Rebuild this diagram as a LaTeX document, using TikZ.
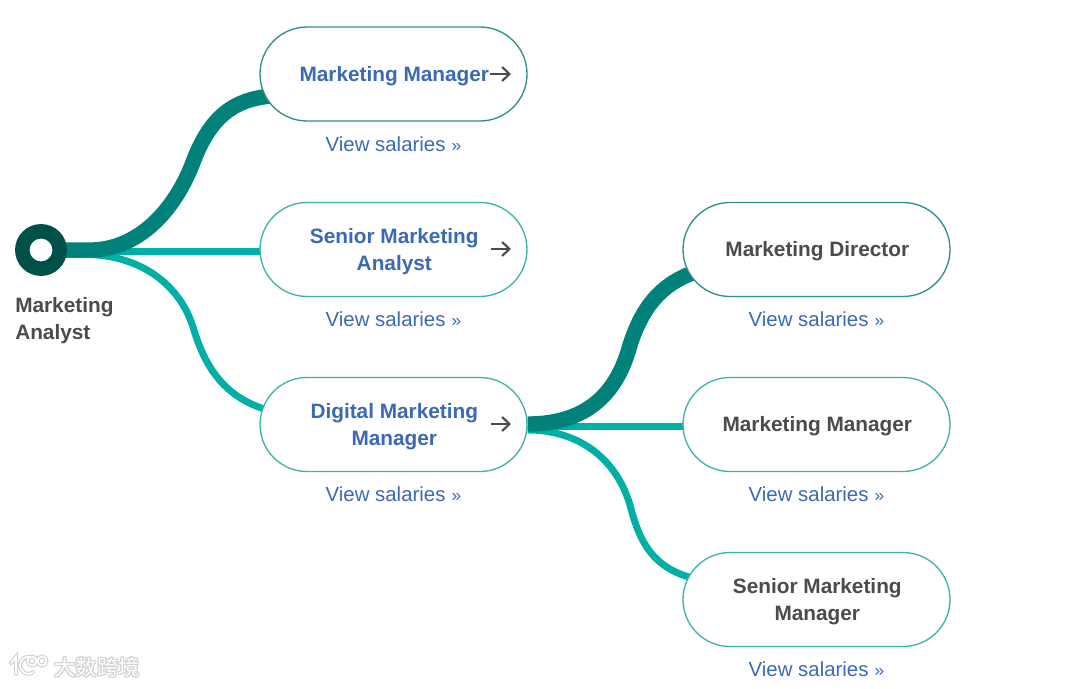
\documentclass[tikz,border=0pt]{standalone}
\usepackage{fontspec}
\setmainfont{Liberation Sans}
\newfontfamily\cjkfont{Noto Sans CJK SC}
\usetikzlibrary{shapes.misc,arrows.meta,backgrounds}
\definecolor{darkteal}{HTML}{00827A}
\definecolor{lightteal}{HTML}{00AFA5}
\definecolor{hubteal}{HTML}{00504A}
\definecolor{bordera}{HTML}{2F8F8A}
\definecolor{borderb}{HTML}{3FB3AB}
\definecolor{inktext}{HTML}{4A4A4F}
\definecolor{bluelink}{HTML}{3B69B5}
\definecolor{markgrey}{HTML}{D2D2D2}
\newcommand{\pilltxt}[1]{\hspace*{1.2pt}\raisebox{-1.5pt}[\height][\depth]{\begin{tabular}{@{}c@{}}#1\end{tabular}}}
\newcommand{\viewtxt}{View salaries\hspace{4.6pt}\raisebox{.4pt}{\fontsize{13pt}{13pt}\selectfont »}}
\tikzset{
  x=.75pt,y=-.75pt,
  pill/.style={rounded rectangle,draw=borderb,line width=1pt,fill=white,minimum width=200.25pt,minimum height=70.5pt,inner sep=0pt,align=center,font=\fontsize{15.6pt}{20.25pt}\selectfont\bfseries},
  pilldark/.style={pill,draw=bordera},
  bluetext/.style={text=bluelink},
  inktxt/.style={text=inktext},
  viewlink/.style={font=\fontsize{15.3pt}{18pt}\selectfont,text=bluelink,inner sep=0pt},
  thickline/.style={draw=darkteal,line width=11.5pt,shorten >=-3pt},
  thinline/.style={draw=lightteal,line width=5.2pt,shorten >=-3pt},
  goarrow/.style={draw=inktext,line width=1.6pt,-{Straight Barb[length=5.5pt,width=10.5pt,line width=1.6pt]}},
  markback/.style={text=markgrey,font=\fontsize{16pt}{16pt}\selectfont\cjkfont,inner sep=0pt},
  markfront/.style={text=white,font=\fontsize{16pt}{16pt}\selectfont\cjkfont,inner sep=0pt},
  logoback/.style={draw=markgrey,line width=3pt,line cap=round},
  logofront/.style={draw=white,line width=1.3pt,line cap=round},
}
\begin{document}
\begin{tikzpicture}
\useasboundingbox (0,0) rectangle (1080,688);
% pills
\node[pilldark,bluetext] (m1) at (393.5,74) {\pilltxt{Marketing Manager}};
\node[pill,bluetext] (m2) at (393.5,249.5) {\pilltxt{Senior Marketing\\Analyst}};
\node[pill,bluetext] (m3) at (393.5,424.5) {\pilltxt{Digital Marketing\\Manager}};
\node[pilldark,inktxt] (d1) at (816.5,249.5) {\pilltxt{Marketing Director}};
\node[pill,inktxt] (d2) at (816.5,424.5) {\pilltxt{Marketing Manager}};
\node[pill,inktxt] (d3) at (816.5,599.5) {\pilltxt{Senior Marketing\\Manager}};
% hub ring
\node[circle,draw=hubteal,fill=white,line width=10.9pt,minimum size=28pt,inner sep=0pt] (hub) at (41,250) {};
\node[anchor=north west,inner sep=0pt,align=left,text=inktext,font=\fontsize{15.6pt}{20.25pt}\selectfont\bfseries] (hublabel) at (15,297) {Marketing\\Analyst};
% connectors behind the nodes
\begin{pgfonlayer}{background}
\draw[thinline] (hub.center |- 0,251.5) -- (m2.west |- 0,251.5);
\draw[thinline] (hub.center |- 0,254.5) -- (85,254.5) .. controls (135,254.5) and (178,280) .. (193,327) .. controls (205,368) and (225,397) .. (m3.173);
\draw[thickline] (hub.center) -- (90,250) .. controls (135,250) and (172,215) .. (192,165) .. controls (210,115) and (235,100) .. (m1.190);
\draw[thinline] (m3.east |- 0,426.5) -- (d2.west |- 0,426.5);
\draw[thinline] (m3.east |- 0,430) .. controls (575,430) and (615,455) .. (630,505) .. controls (640,545) and (655,568) .. (d3.170);
\draw[thickline] (m3.east |- 0,424) .. controls (590,424) and (618,390) .. (630,345) .. controls (642,308) and (660,285) .. (d1.191);
\end{pgfonlayer}
% arrows
\coordinate (a1s) at (490,74); \coordinate (a1e) at (511,74);
\coordinate (a2s) at (491,249); \coordinate (a2e) at (511,249);
\coordinate (a3s) at (491,424); \coordinate (a3e) at (511,424);
\draw[goarrow] (a1s) -- (a1e);
\draw[goarrow] (a2s) -- (a2e);
\draw[goarrow] (a3s) -- (a3e);
% links
\node[viewlink] (v1) at (393.5,144.5) {\viewtxt};
\node[viewlink] (v2) at (393.5,319.5) {\viewtxt};
\node[viewlink] (v3) at (393.5,494.5) {\viewtxt};
\node[viewlink] (v4) at (816.5,319.5) {\viewtxt};
\node[viewlink] (v5) at (816.5,494.5) {\viewtxt};
\node[viewlink] (v6) at (816.5,669.5) {\viewtxt};
% watermark
\foreach \dx/\dy in {-1/0,1/0,0/-1,0/1,-1/-1,1/1,-1/1,1/-1}
  \node[markback] at (97+\dx,667.5+\dy) {大数跨境};
\node[markfront] (mark) at (97,667.5) {大数跨境};
\foreach \sty in {logoback,logofront}{
  \draw[\sty] (11,663) -- (16,657) -- (16,674);
  \draw[\sty] (30,657) .. controls (21,656) and (18,665) .. (21,669) .. controls (24,675) and (31,675) .. (33,672);
  \draw[\sty] (32,661) circle (4.5);
  \draw[\sty] (42,661) circle (4.5);
}
\end{tikzpicture}
\end{document}
